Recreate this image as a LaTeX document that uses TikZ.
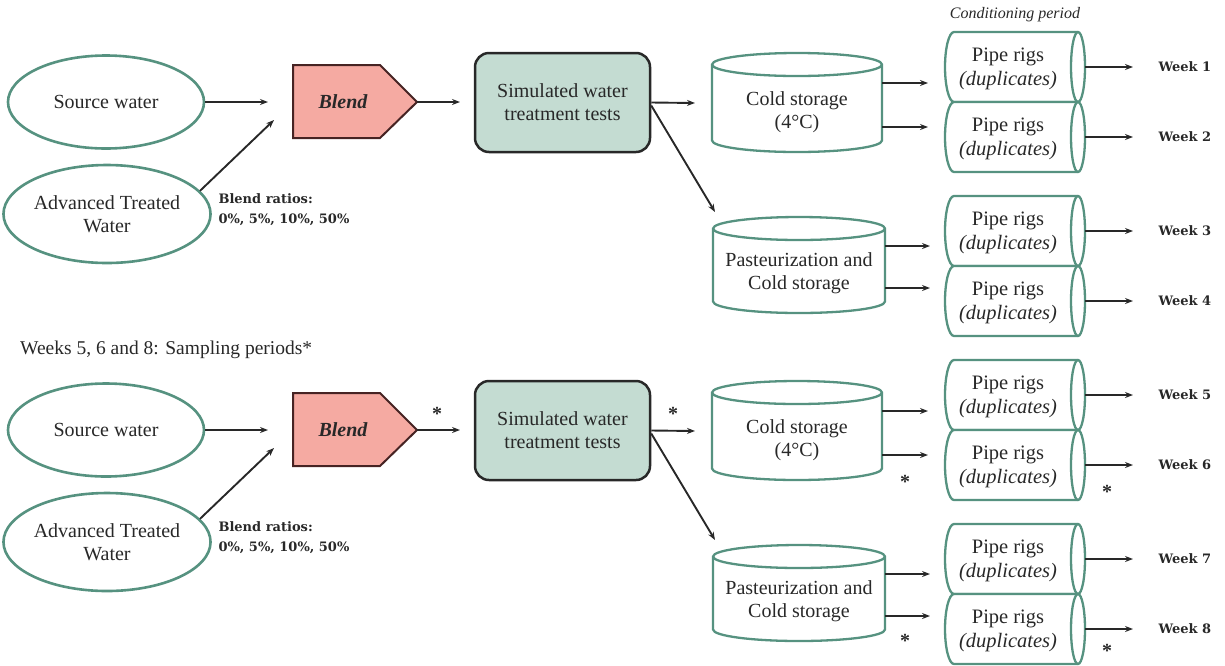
\documentclass[tikz,border=0pt]{standalone}
\usepackage{fontspec}
\setmainfont{Liberation Serif}
\newfontfamily\wkfont{DejaVu Serif}
\usetikzlibrary{shapes.geometric,arrows.meta}
\definecolor{cylgreen}{RGB}{86,146,128}
\definecolor{simfill}{RGB}{196,220,210}
\definecolor{blendfill}{RGB}{245,170,162}
\definecolor{blenddraw}{RGB}{70,35,35}
\definecolor{inkgray}{RGB}{40,40,40}
\tikzset{
 arr/.style={draw=inkgray,line width=1.9pt,-{Stealth[length=8pt,width=6pt]}},
 txt/.style={font=\fontsize{20}{23}\selectfont,text=inkgray,align=center,inner sep=0pt},
 ell/.style={ellipse,draw=cylgreen,line width=2.6pt,fill=white,inner sep=0pt,txt},
 cylline/.style={draw=cylgreen,line width=2.3pt,fill=white},
 holder/.style={inner sep=0pt,outer sep=0pt},
 pipetxt/.style={font=\fontsize{20.5}{24}\selectfont,text=inkgray,align=center,inner sep=0pt},
 weektxt/.style={font=\wkfont\bfseries\fontsize{13}{15}\selectfont,text=inkgray,anchor=west},
 ratio/.style={font=\wkfont\bfseries\fontsize{13}{20}\selectfont,text=inkgray,align=left,anchor=west},
 simbox/.style={draw=inkgray,line width=2.5pt,fill=simfill,rounded corners=14pt,minimum width=175pt,minimum height=99pt,txt},
 star/.style={font=\fontsize{20}{20}\selectfont\bfseries,text=inkgray,anchor=base,inner sep=0pt},
}
% name, x1, x2, ytop, ybottom, text, text offset
\newcommand\storagecyl[7]{%
 \pgfmathsetmacro\scrx{(#3-#2)/2}%
 \pgfmathsetmacro\scyt{#4+11.5}%
 \pgfmathsetmacro\scyb{#5-11.5}%
 \pgfmathsetmacro\scxc{(#2+#3)/2}%
 \pgfmathsetmacro\scyc{(#4+#5)/2}%
 \pgfmathsetmacro\scty{(#4+#5)/2+#7}%
 \pgfmathsetmacro\scw{#3-#2}%
 \pgfmathsetmacro\sch{#5-#4}%
 \draw[cylline] (#2,\scyt) -- (#2,\scyb) arc[start angle=180,end angle=360,x radius=\scrx pt,y radius=11.5pt] -- (#3,\scyt) arc[start angle=0,end angle=180,x radius=\scrx pt,y radius=11.5pt] -- cycle;
 \draw[cylline,fill=none] (#2,\scyt) arc[start angle=180,end angle=360,x radius=\scrx pt,y radius=11.5pt];
 \node[holder,minimum width=\scw pt,minimum height=\sch pt] (#1) at (\scxc,\scyc) {};
 \node[txt] (#1t) at (\scxc,\scty) {#6};
}
% name, ytop, week number
\newcommand\piperig[3]{%
 \pgfmathsetmacro\pryb{#2+70}%
 \pgfmathsetmacro\prym{#2+35}%
 \pgfmathsetmacro\prty{#2+37}%
 \draw[cylline] (954,#2) -- (1078,#2) arc[start angle=90,end angle=-90,x radius=7pt,y radius=35pt] -- (954,\pryb) arc[start angle=270,end angle=90,x radius=9pt,y radius=35pt] -- cycle;
 \draw[cylline,fill=none] (1078,#2) arc[start angle=90,end angle=270,x radius=7pt,y radius=35pt];
 \node[holder,minimum width=140pt,minimum height=70pt] (#1) at (1015,\prym) {};
 \node[pipetxt] (#1t) at (1008,\prty) {Pipe rigs\\\textit{(duplicates)}};
 \coordinate (#1a) at (1133,\prym);
 \draw[arr] (#1.east) -- (#1a);
 \node[weektxt] (#1w) at (1155,\prym) {Week #3};
}
% prefix, week offset
\newcommand\drawhalf[2]{%
 \node[ell,minimum width=196pt,minimum height=93pt] (#1sw) at (106,102) {Source water};
 \node[ell,minimum width=197pt,minimum height=98pt] (#1atw) at (107,214) {Advanced Treated\\Water};
 \filldraw[draw=blenddraw,fill=blendfill,line width=2pt,line join=miter] (293,65) -- (380,65) -- (417,102) -- (380,138) -- (293,138) -- cycle;
 \node[txt,font=\fontsize{20}{23}\selectfont\bfseries\itshape] (#1blend) at (343,102) {Blend};
 \coordinate (#1tip) at (417,102);
 \coordinate (#1in1) at (268,102);
 \coordinate (#1in2) at (274,120);
 \draw[arr] (#1sw.east) -- (#1in1);
 \draw[arr] (#1atw.14) -- (#1in2);
 \node[ratio] (#1ratio) at (215,210) {Blend ratios:\\0\%, 5\%, 10\%, 50\%};
 \node[simbox] (#1sim) at (562.5,102.5) {Simulated water\\treatment tests};
 \coordinate (#1simin) at (460,102);
 \draw[arr] (#1tip) -- (#1simin);
 \coordinate (#1simout) at (695,103);
 \draw[arr] (#1sim.east) -- (#1simout);
 \coordinate (#1diag) at (715,212);
 \draw[arr] ([yshift=-3pt]#1sim.east) -- (#1diag);
 \storagecyl{#1cold}{712}{882}{53}{152}{Cold storage\\(4°C)}{10}
 \storagecyl{#1past}{713}{885}{217}{313}{Pasteurization and\\Cold storage}{8}
 \coordinate (#1ca) at (928,83);
 \coordinate (#1cb) at (928,127);
 \coordinate (#1pa) at (930,246);
 \coordinate (#1pb) at (930,288);
 \draw[arr] (#1cold.east |- #1ca) -- (#1ca);
 \draw[arr] (#1cold.east |- #1cb) -- (#1cb);
 \draw[arr] (#1past.east |- #1pa) -- (#1pa);
 \draw[arr] (#1past.east |- #1pb) -- (#1pb);
 \piperig{#1pipea}{32}{\the\numexpr#2+1\relax}
 \piperig{#1pipeb}{102}{\the\numexpr#2+2\relax}
 \piperig{#1pipec}{196}{\the\numexpr#2+3\relax}
 \piperig{#1piped}{266}{\the\numexpr#2+4\relax}
}
\begin{document}
\begin{tikzpicture}[x=1pt,y=-1pt]
\useasboundingbox (0,0) rectangle (1225,665);
\drawhalf{t}{0}
\node[font=\fontsize{16}{16}\selectfont\itshape,text=inkgray,inner sep=0pt] (cond) at (1015,15) {Conditioning period};
\node[txt,anchor=west,font=\fontsize{19.5}{22}\selectfont] (sampling) at (20,350) {Weeks 5, 6 and 8: Sampling periods*};
\begin{scope}[yshift=-328pt]
\drawhalf{b}{4}
\node[star] (s1) at (437,92) {*};
\node[star] (s2) at (673,92) {*};
\node[star] (s3) at (905,160) {*};
\node[star] (s4) at (1107,170) {*};
\node[star] (s5) at (905,319) {*};
\node[star] (s6) at (1107,329) {*};
\end{scope}
\end{tikzpicture}
\end{document}
